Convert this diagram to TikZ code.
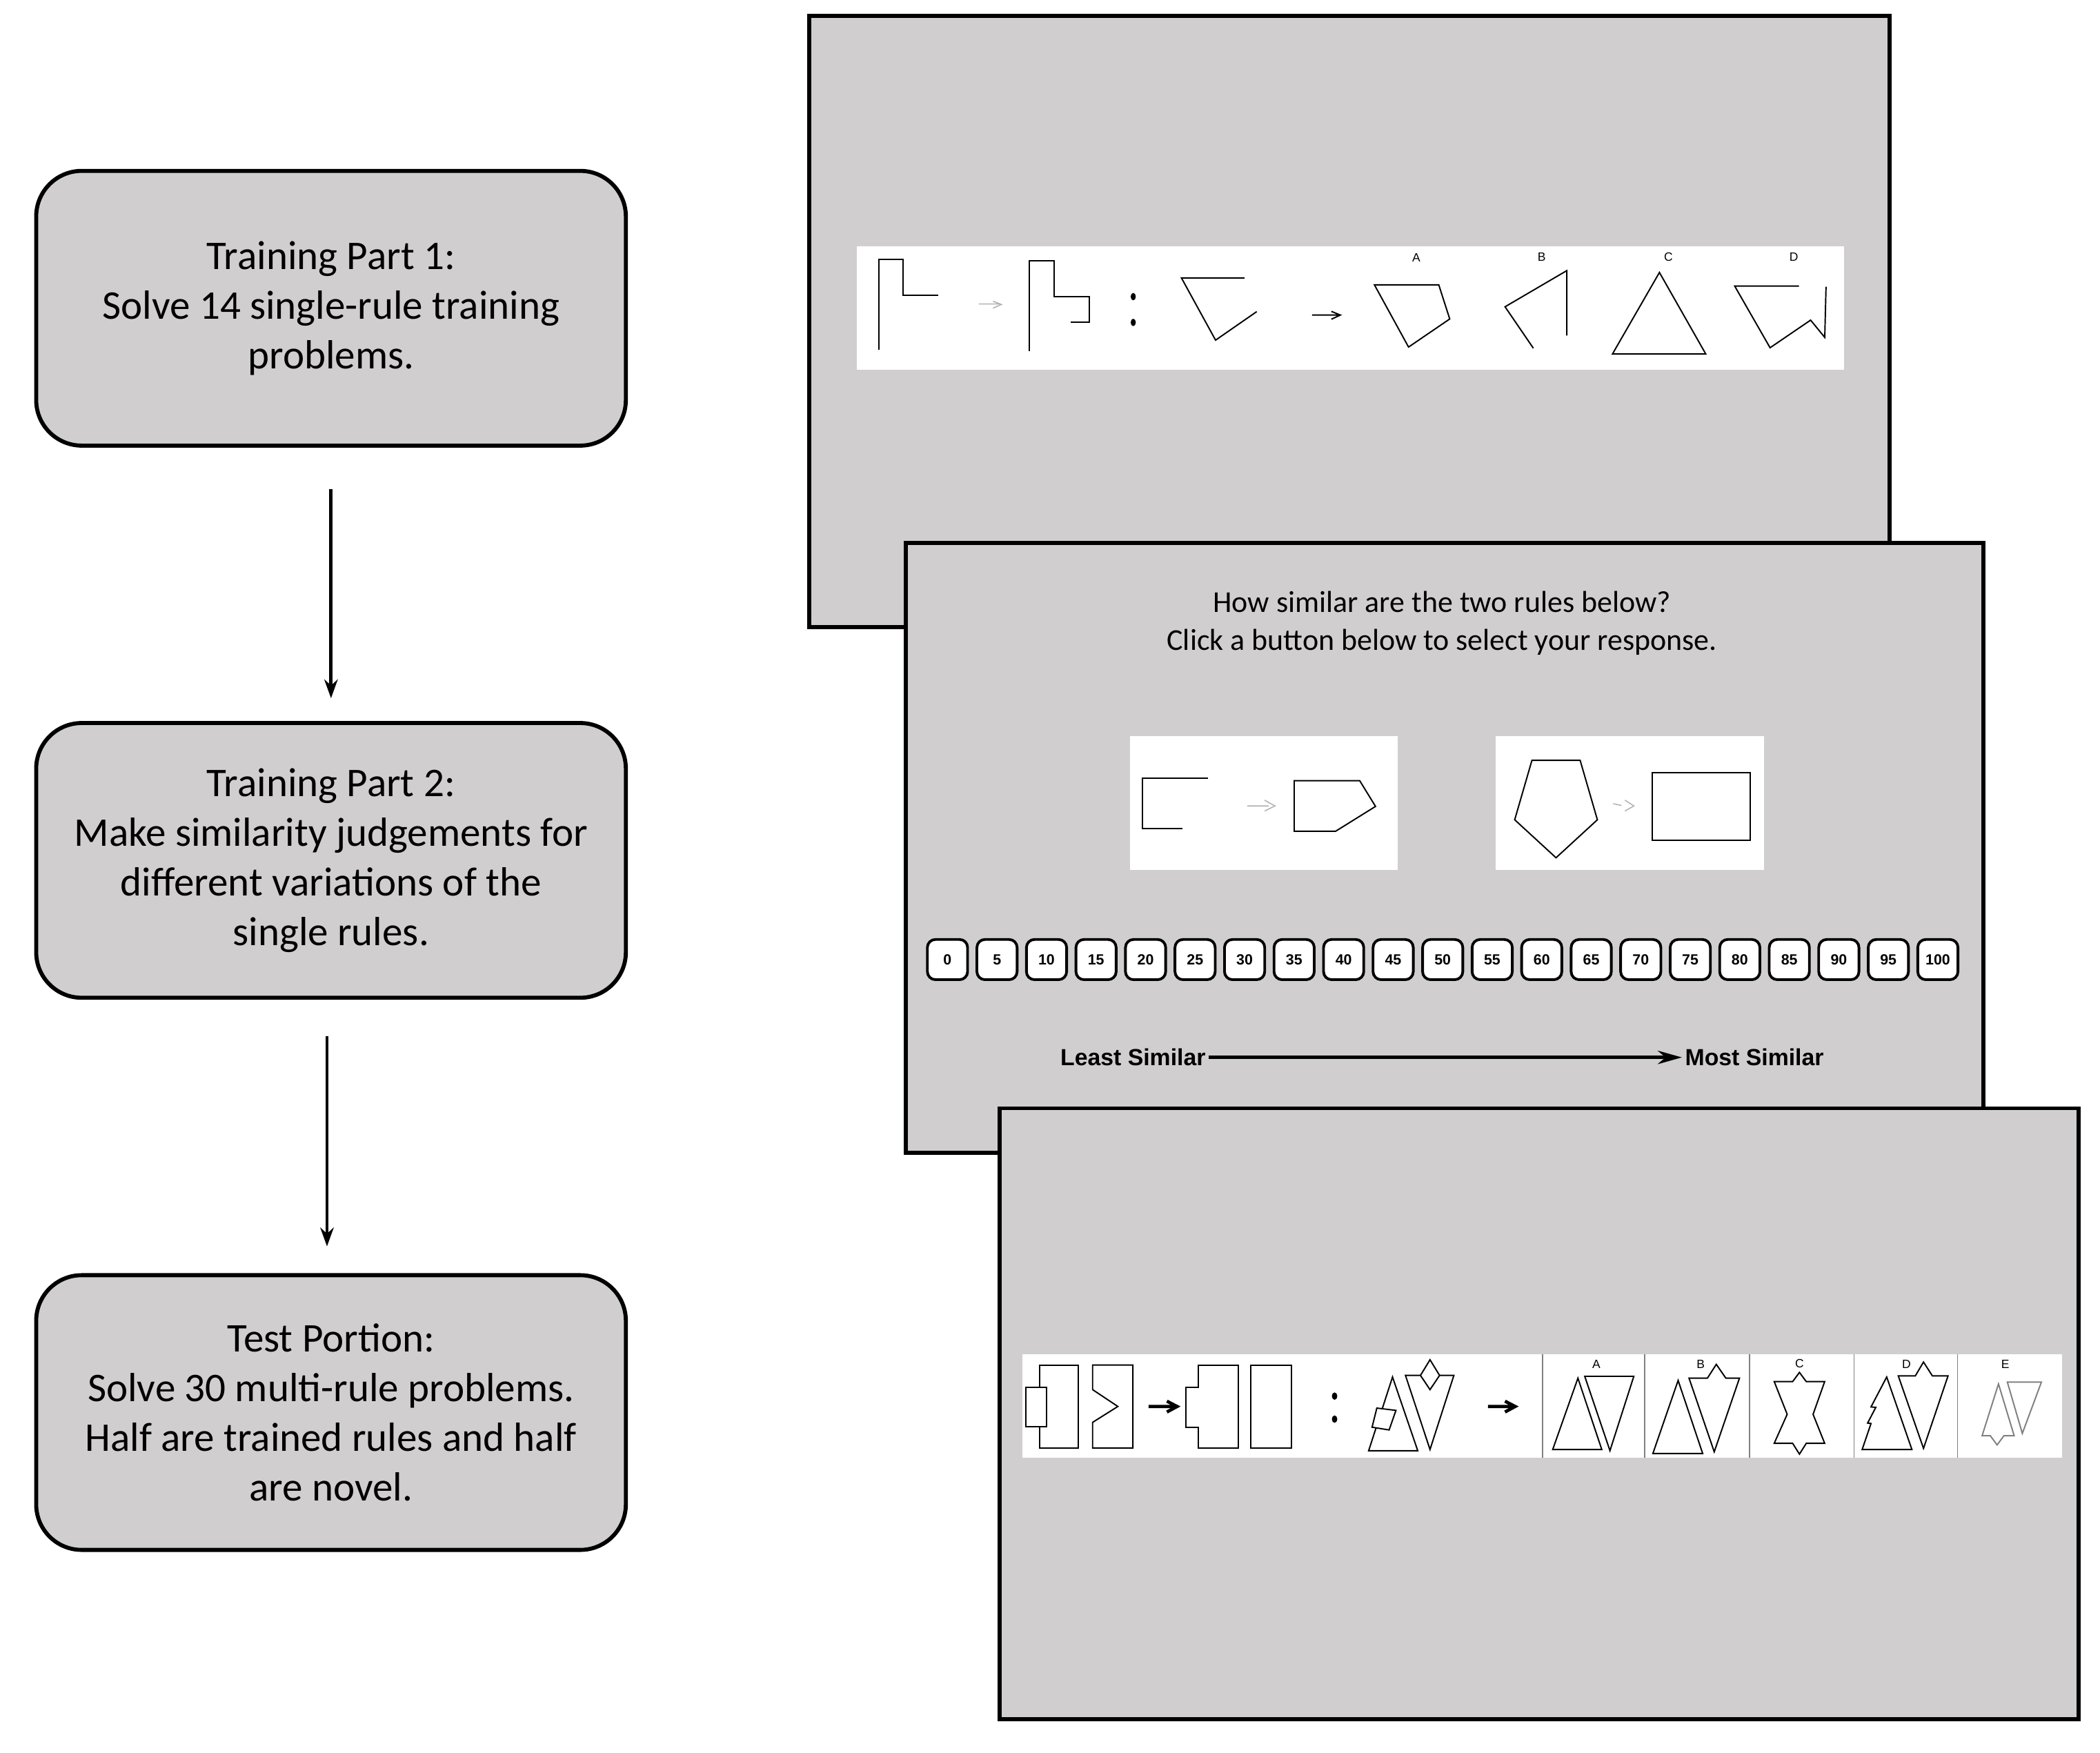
\documentclass[tikz,border=0pt]{standalone}
\usepackage{fontspec}
\setmainfont{Carlito}
\newfontfamily\arialf{Liberation Sans}
\usetikzlibrary{arrows.meta}
\definecolor{scr}{RGB}{208,206,207}
\begin{document}
\begin{tikzpicture}[x=0.5pt,y=-0.5pt,
  stagebox/.style={draw=black,line width=1.5pt,fill=scr,rounded corners=17pt,minimum width=220pt,minimum height=102.5pt,align=center,font=\fontsize{15.2}{18.5}\selectfont},
  screen/.style={draw=black,line width=1.5pt,fill=scr},
  flow/.style={line width=1.2pt,-{Stealth[length=7pt,width=5pt]}},
  fig/.style={line width=0.5pt,line join=miter},
  garr/.style={gray!60,line width=0.4pt},
  btn/.style={draw=black,line width=1pt,fill=white,rounded corners=3pt,minimum width=15pt,minimum height=15pt,inner sep=0pt,font=\arialf\bfseries\fontsize{5.5}{6}\selectfont},
  lab/.style={font=\arialf\fontsize{4.5}{5}\selectfont,inner sep=0pt},
  scl/.style={font=\arialf\bfseries\fontsize{8.7}{9}\selectfont,inner sep=1pt}]
\useasboundingbox (0,0) rectangle (1567,1308);
% left flow
\node[stagebox] (s1) at (247,230) {Training Part 1:\\Solve 14 single-rule training\\problems.};
\node[stagebox] (s2) at (247,642) {Training Part 2:\\Make similarity judgements for\\different variations of the\\single rules.};
\node[stagebox] (s3) at (247,1054) {Test Portion:\\Solve 30 multi-rule problems.\\Half are trained rules and half\\are novel.};
\coordinate (a1s) at (247,365); \coordinate (a1e) at (247,521);
\coordinate (a2s) at (244,773); \coordinate (a2e) at (244,930);
\draw[flow] (a1s) -- (a1e);
\draw[flow] (a2s) -- (a2e);
% screen 1
\draw[screen] (604,12) rectangle (1410,468);
\begin{scope}[shift={(639.2,175.3)},xscale=0.4800,yscale=0.1718]
\fill[white] (0,48) rectangle (1535,587);
\draw[fig] (35,500)--(35,105)--(72,105)--(72,262)--(127,262);
\draw[garr] (190,300)--(222,300) (212,288)--(225,302)--(212,318);
\draw[fig] (268,505)--(268,112)--(307,112)--(307,267)--(362,267)--(362,378)--(333,378);
\fill (430,268) ellipse (4 and 16); \fill (430,380) ellipse (4 and 16);
\draw[fig] (603,187)--(505,187)--(558,457)--(622,333);
\draw[fig] (708,348)--(748,348) (738,332)--(752,348)--(738,366);
\draw[fig] (905,217)--(805,217)--(858,487)--(922,365)--cycle;
\draw[fig] (1052,492)--(1008,312)--(1104,155)--(1104,437);
\draw[fig] (1248,163)--(1175,517)--(1320,517)--cycle;
\draw[fig] (1465,222)--(1365,222)--(1420,490)--(1483,370)--(1505,445)--(1507,225);
\node[lab] (lA) at (870,100) {A}; \node[lab] (lB) at (1065,95) {B};
\node[lab] (lC) at (1262,95) {C}; \node[lab] (lD) at (1457,95) {D};
\end{scope}
% screen 2
\draw[screen] (676,405) rectangle (1480,860);
\node[font=\fontsize{11.3}{14}\selectfont,align=center] (q) at (1076,465) {How similar are the two rules below?\\Click a button below to select your response.};
\begin{scope}[shift={(680.4,546.4)},xscale=0.5141,yscale=0.1718]
\fill[white] (317,17) rectangle (705,597);
\fill[white] (847,17) rectangle (1237,597);
\draw[fig] (430,200)--(335,200)--(335,418)--(393,418);
\draw[garr] (487,320)--(518,320) (512,295)--(527,320)--(512,342);
\draw[fig] (555,210)--(650,210)--(673,322)--(615,430)--(555,430)--cycle;
\draw[fig] (900,122)--(970,122)--(995,380)--(935,545)--(875,380)--cycle;
\draw[garr] (1018,310)--(1030,318) (1035,295)--(1048,320)--(1035,342);
\draw[fig] (1075,175) rectangle (1217,470);
\end{scope}
\foreach \v [count=\i from 0] in {0,5,10,15,20,25,30,35,40,45,50,55,60,65,70,75,80,85,90,95,100}
  \node[btn] (b\i) at ({707+36.95*\i},716) {\v};
\node[scl,anchor=east] (least) at (902,789) {Least Similar};
\node[scl,anchor=west] (most) at (1255,789) {Most Similar};
\draw[line width=1.2pt,-{Stealth[length=9pt,width=5pt]}] (least) -- (most);
% screen 3
\draw[screen] (746,827) rectangle (1551,1283);
\begin{scope}[shift={(762.9,1010.3)},xscale=0.5086,yscale=0.1718]
\fill[white] (0,0) rectangle (1525,452);
\foreach \sx in {763,913,1067,1220,1372} \draw[gray,line width=0.4pt] (\sx,0)--(\sx,452);
\draw[fig] (25,48) rectangle (82,408);
\draw[fig,fill=white] (5,145) rectangle (35,315);
\draw[fig] (103,48)--(162,48)--(162,408)--(103,408)--(103,297)--(140,228)--(103,155)--cycle;
\draw[line width=1.2pt] (185,228)--(222,228) (212,205)--(227,228)--(212,252);
\draw[fig] (258,48)--(317,48)--(317,408)--(258,408)--(258,318)--(240,318)--(240,145)--(258,145)--cycle;
\draw[fig] (335,48) rectangle (395,408);
\fill (458,183) ellipse (4 and 16); \fill (458,283) ellipse (4 and 16);
\draw[fig] (543,100)--(508,420)--(580,420)--cycle;
\draw[fig,fill=white] (520,235)--(548,245)--(538,330)--(513,318)--cycle;
\draw[fig] (562,93)--(633,93)--(598,415)--cycle;
\draw[fig,fill=white] (598,25)--(612,93)--(598,155)--(584,93)--cycle;
\draw[line width=1.2pt] (683,228)--(718,228) (708,205)--(723,228)--(708,252);
\draw[fig] (815,105)--(778,415)--(850,415)--cycle;
\draw[fig] (825,97)--(897,97)--(862,420)--cycle;
\draw[fig] (962,115)--(925,432)--(998,432)--cycle;
\draw[fig] (978,105)--(1005,105)--(1018,45)--(1032,105)--(1052,105)--(1015,425)--cycle;
\draw[fig] (1103,120)--(1130,120)--(1140,80)--(1150,120)--(1177,120)--(1160,262)--(1177,388)--(1150,388)--(1140,435)--(1130,388)--(1103,388)--(1122,262)--cycle;
\draw[fig] (1268,100)--(1245,230)--(1252,232)--(1240,300)--(1245,302)--(1232,415)--(1305,415)--cycle;
\draw[fig] (1285,95)--(1310,95)--(1322,35)--(1335,95)--(1358,95)--(1322,410)--cycle;
\draw[fig,gray] (1445,122)--(1495,122)--(1467,345)--cycle;
\draw[fig,gray] (1432,130)--(1408,355)--(1420,355)--(1430,395)--(1440,355)--(1455,355)--cycle;
\node[lab] (tA) at (842,45) {A}; \node[lab] (tB) at (995,45) {B};
\node[lab] (tC) at (1140,42) {C}; \node[lab] (tD) at (1297,45) {D};
\node[lab] (tE) at (1442,45) {E};
\end{scope}
\end{tikzpicture}
\end{document}
